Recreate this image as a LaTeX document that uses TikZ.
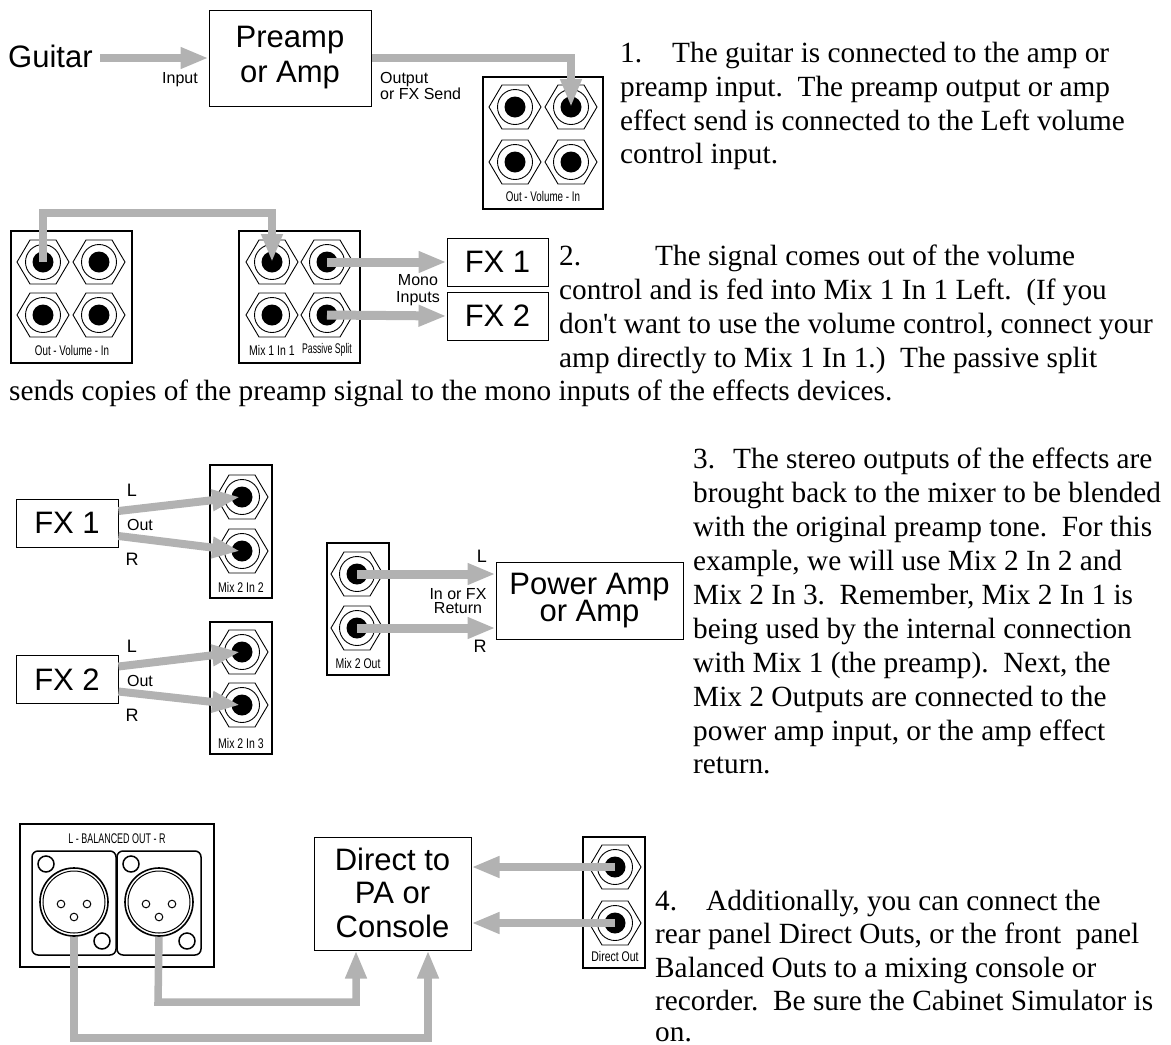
\documentclass[tikz,border=0pt]{standalone}
\usepackage{fontspec}
\usetikzlibrary{arrows.meta}
\setmainfont{Liberation Sans}
\newfontfamily\txtfont{Liberation Serif}
\definecolor{sig}{HTML}{B2B2B2}
\newcommand\cond[2][.75]{\scalebox{#1}[1]{#2}}
\newcommand\jack[3]{\begin{scope}[shift={(#2,#3)}]
  \draw[hexline] (-26,0)--(-13,-22)--(13,-22)--(26,0)--(13,22)--(-13,22)--cycle;
  \draw[hexline] (0,0) circle (17.5);
  \node[jackcore] (#1) at (0,0) {};
\end{scope}}
\newcommand\xlr[3]{\begin{scope}[shift={(#2,#3)}]
  \node[xlrbody] (#1) at (0,0) {};
  \draw[thin2] (0,0) circle (31);
  \draw[thin2] (-13,2) circle (3.8) (13,2) circle (3.8) (0,15) circle (3.8);
  \draw[thick2] (-28,-38) circle (8) (28,39) circle (8);
\end{scope}}
\tikzset{
  hexline/.style={draw=black,line width=.9pt},
  thin2/.style={draw=black,line width=1pt},
  thick2/.style={draw=black,line width=1.5pt},
  jackcore/.style={circle,fill=black,draw=none,minimum size=21pt,inner sep=0pt},
  xlrbody/.style={circle,draw=black,line width=1.6pt,minimum size=68pt,inner sep=0pt},
  panel/.style={draw=black,line width=1.5pt,fill=white,inner sep=0pt},
  plate/.style={draw=black,line width=1.5pt,rounded corners=6pt,inner sep=0pt},
  box/.style={draw=black,line width=1pt,fill=white,inner sep=0pt,align=center,font=\fontsize{31}{32.5}\selectfont},
  plabel/.style={inner sep=0pt,font=\fontsize{14}{14}\selectfont},
  note/.style={inner sep=0pt,font=\fontsize{16}{16}\selectfont,align=center},
  lr/.style={inner sep=0pt,anchor=base,font=\fontsize{18}{18}\selectfont},
  para/.style={inner sep=0pt,anchor=base west,font=\txtfont\fontsize{29.3}{33}\selectfont},
  wire/.style={draw=sig,line width=#1,-{Triangle[length=28pt,width=20pt]},color=sig},
  wire/.default=7.5pt
}
\begin{document}
\begin{tikzpicture}[x=1pt,y=-1pt]
\useasboundingbox (0,0) rectangle (1171,1045);
% panels
\node[panel,minimum width=120pt,minimum height=132pt] (p1) at (543,143) {};
\node[panel,minimum width=121pt,minimum height=132pt] (p2) at (71.5,297) {};
\node[panel,minimum width=121pt,minimum height=132pt] (p3) at (299.5,297) {};
\node[panel,minimum width=62pt,minimum height=133pt] (p4) at (241,531.5) {};
\node[panel,minimum width=62pt,minimum height=132pt] (p5) at (241,688) {};
\node[panel,minimum width=62pt,minimum height=132pt] (p6) at (358,609) {};
\node[panel,minimum width=194pt,minimum height=143pt] (p7) at (117,895.5) {};
\node[panel,minimum width=62pt,minimum height=131pt] (p8) at (614,902.5) {};
% panel labels
\node[plabel] (l1) at (543,196) {\cond[.7]{Out - Volume - In}};
\node[plabel] (l2) at (72,350) {\cond[.7]{Out - Volume - In}};
\node[plabel] (l3a) at (272,350) {\cond{Mix 1 In 1}};
\node[plabel] (l3b) at (327,350) {\cond[.62]{Passive Split}};
\node[plabel] (l4) at (241,587) {\cond{Mix 2 In 2}};
\node[plabel] (l5) at (241,743) {\cond{Mix 2 In 3}};
\node[plabel] (l6) at (358,663) {\cond{Mix 2 Out}};
\node[plabel] (l7) at (117,839) {\cond[.64]{L - BALANCED OUT - R}};
\node[plabel] (l8) at (615,956) {\cond{Direct Out}};
% jacks
\jack{a1}{515}{107}\jack{a2}{571}{107}\jack{a3}{515}{162}\jack{a4}{571}{162}
\jack{b1}{43}{262}\jack{b2}{99}{262}\jack{b3}{43}{315}\jack{b4}{99}{315}
\jack{c1}{272}{262}\jack{c2}{327}{262}\jack{c3}{272}{315}\jack{c4}{327}{315}
\jack{d1}{242}{497}\jack{d2}{242}{551}
\jack{e1}{242}{652}\jack{e2}{242}{705}
\jack{f1}{357}{574}\jack{f2}{357}{628}
\jack{g1}{615}{867}\jack{g2}{615}{923}
% XLR plates
\node[plate,minimum width=84pt,minimum height=104pt] (xp1) at (74,903) {};
\node[plate,minimum width=84pt,minimum height=104pt] (xp2) at (159,903) {};
\xlr{xa}{74}{902}\xlr{xb}{159}{902}
% boxes
\node[box,minimum width=162pt,minimum height=96pt] (pre) at (290,58) {\raisebox{-2pt}{Preamp}\\[2.5pt]\raisebox{-2pt}{or Amp}};
\node[box,minimum width=101pt,minimum height=48pt] (fx1) at (497.5,262) {FX 1};
\node[box,minimum width=101pt,minimum height=48pt] (fx2) at (497.5,316) {FX 2};
\node[box,minimum width=102pt,minimum height=48pt] (fx3) at (67,523) {FX 1};
\node[box,minimum width=102pt,minimum height=48pt] (fx4) at (67,679.5) {FX 2};
\node[box,minimum width=187pt,minimum height=77pt] (pwr) at (589.5,600.5) {\raisebox{-1pt}{Power Amp}\\[-5pt]\raisebox{-1pt}{or Amp}};
\node[box,minimum width=157pt,minimum height=113pt] (dir) at (392.5,893.5) {\raisebox{4pt}{Direct to}\\\raisebox{3pt}{PA or}\\\raisebox{2pt}{Console}};
% connectors
\node[inner sep=0pt,anchor=base west,font=\fontsize{31}{31}\selectfont] (gtr) at (8,67) {Guitar};
\coordinate (gs) at (100,58);
\draw[wire] (gs) -- (pre.west);
\draw[wire] (pre.east) -| (a2.center);
\coordinate (bt) at (43,213);
\draw[wire] (b1.center) -- (bt) -| (c1.center);
\draw[wire=9pt] (c2.center) -- (fx1.west);
\draw[wire=9pt] (c4.center) -- (fx2.west);
\draw[wire=8pt] ([yshift=12pt]fx3.east) -- ([xshift=-2pt]d1.center);
\draw[wire=8pt] ([yshift=-13pt]fx3.east) -- ([xshift=-2pt]d2.center);
\draw[wire=8pt] ([yshift=13pt]fx4.east) -- ([xshift=-2pt]e1.center);
\draw[wire=8pt] ([yshift=-12pt]fx4.east) -- ([xshift=-2pt]e2.center);
\draw[wire=9pt] (f1.center) -- (pwr.west |- f1.center);
\draw[wire=9pt] (f2.center) -- (pwr.west |- f2.center);
\draw[wire] (g1.center) -- (dir.east |- g1.center);
\draw[wire] (g2.center) -- (dir.east |- g2.center);
\coordinate (m1) at (158,1002);
\coordinate (m2) at (74,1038);
\draw[wire] (xb.south) -- (m1) -| ([xshift=-36.5pt]dir.south);
\draw[wire] (xa.south) -- (m2) -| ([xshift=35.5pt]dir.south);
% diagram notes
\node[note,anchor=base west] (n1) at (162,83) {Input};
\node[note,anchor=base west] (n2) at (380,83) {Output};
\node[note,anchor=base west] (n3) at (380,99) {or FX Send};
\node[note,anchor=base] (n4) at (418,285) {Mono};
\node[note,anchor=base] (n5) at (418,302) {Inputs};
\node[lr] (n6) at (132,496) {L};
\node[note,anchor=base] (n7) at (140,530) {Out};
\node[lr] (n8) at (132,565) {R};
\node[lr] (n9) at (132,652) {L};
\node[note,anchor=base] (n10) at (140,686) {Out};
\node[lr] (n11) at (132,721) {R};
\node[lr] (n12) at (482,562) {L};
\node[lr] (n13) at (480,652) {R};
\node[note,anchor=base] (n14) at (458,599) {In or FX};
\node[note,anchor=base] (n15) at (458,613) {Return};
% paragraphs
\node[para] (t1a) at (620,62) {1.};
\node[para] (t1b) at (672,62) {The guitar is connected to the amp or};
\node[para] (t1c) at (620,96) {preamp input.\ \ The preamp output or amp};
\node[para] (t1d) at (620,130) {effect send is connected to the Left volume};
\node[para] (t1e) at (620,163) {control input.};
\node[para] (t2a) at (559,265) {2.};
\node[para] (t2b) at (655,265) {The signal comes out of the volume};
\node[para] (t2c) at (559,299) {control and is fed into Mix 1 In 1 Left.\ \ (If you};
\node[para] (t2d) at (559,333) {don't want to use the volume control, connect your};
\node[para] (t2e) at (559,367) {amp directly to Mix 1 In 1.)\ \ The passive split};
\node[para] (t2f) at (9,400) {sends copies of the preamp signal to the mono inputs of the effects devices.};
\node[para] (t3a) at (693,468) {3.};
\node[para] (t3b) at (733,468) {The stereo outputs of the effects are};
\node[para] (t3c) at (693,502) {brought back to the mixer to be blended};
\node[para] (t3d) at (693,536) {with the original preamp tone.\ \ For this};
\node[para] (t3e) at (693,570) {example, we will use Mix 2 In 2 and};
\node[para] (t3f) at (693,604) {Mix 2 In 3.\ \ Remember, Mix 2 In 1 is};
\node[para] (t3g) at (693,638) {being used by the internal connection};
\node[para] (t3h) at (693,672) {with Mix 1 (the preamp).\ \ Next, the};
\node[para] (t3i) at (693,706) {Mix 2 Outputs are connected to the};
\node[para] (t3j) at (693,740) {power amp input, or the amp effect};
\node[para] (t3k) at (693,773) {return.};
\node[para] (t4a) at (655,910) {4.};
\node[para] (t4b) at (706,910) {Additionally, you can connect the};
\node[para] (t4c) at (655,943) {rear panel Direct Outs, or the front\ \ panel};
\node[para] (t4d) at (655,977) {Balanced Outs to a mixing console or};
\node[para] (t4e) at (655,1010) {recorder.\ \ Be sure the Cabinet Simulator is};
\node[para] (t4f) at (655,1041) {on.};
\end{tikzpicture}
\end{document}
